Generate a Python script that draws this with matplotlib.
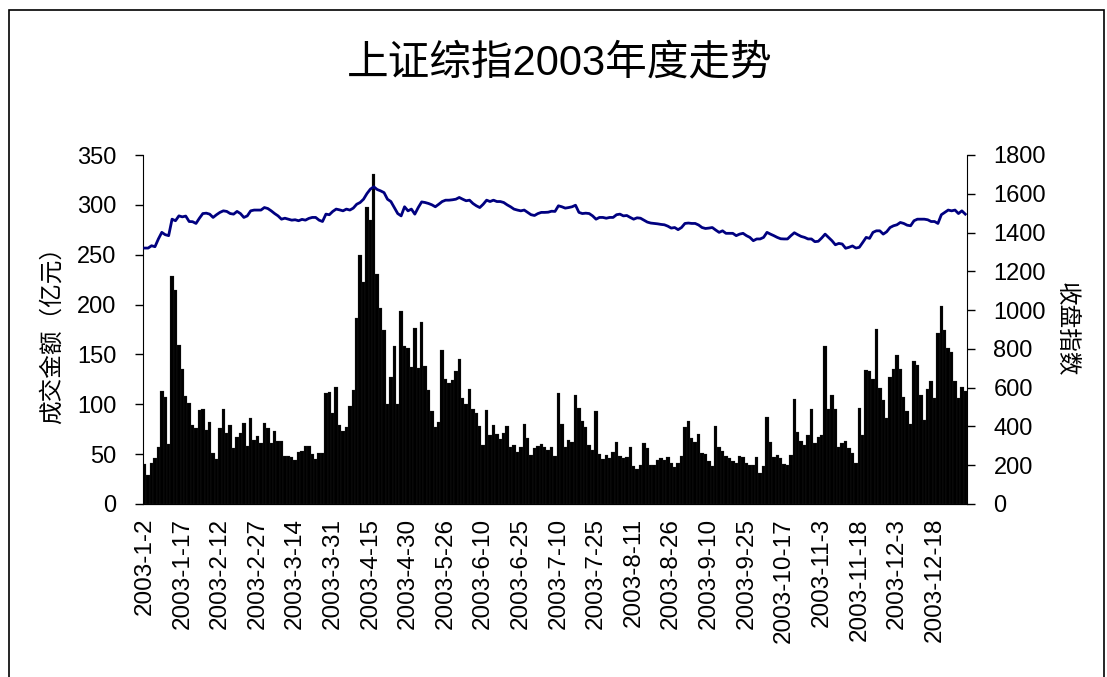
import numpy as np
import matplotlib
matplotlib.use('Agg')
import matplotlib.pyplot as plt
from matplotlib.patches import Rectangle

plt.rcParams['font.family'] = ['Liberation Sans', 'Noto Sans CJK SC', 'DejaVu Sans']

# 成交金额（亿元），2003年每个交易日
volume = [
    40, 29, 41, 46, 57, 113, 107, 60, 229, 215, 159, 135, 108, 101, 79, 76, 94, 95, 74, 82,
    51, 45, 76, 95, 71, 79, 56, 67, 71, 81, 58, 86, 64, 68, 61, 81, 76, 61, 73, 63,
    63, 48, 48, 47, 44, 52, 53, 58, 58, 50, 45, 51, 51, 111, 112, 91, 117, 79, 73, 77,
    98, 114, 187, 250, 223, 298, 285, 331, 231, 197, 175, 100, 127, 158, 100, 194, 158, 156, 137, 177,
    136, 183, 138, 114, 93, 77, 82, 154, 125, 121, 124, 133, 145, 106, 100, 115, 95, 91, 78, 59,
    94, 69, 79, 70, 65, 71, 78, 57, 59, 52, 57, 80, 66, 49, 56, 58, 60, 57, 54, 57,
    48, 111, 80, 57, 64, 62, 109, 96, 83, 77, 59, 54, 93, 50, 45, 49, 46, 52, 62, 48,
    46, 47, 57, 38, 35, 39, 61, 56, 39, 39, 44, 46, 44, 47, 41, 37, 41, 48, 77, 83, 66,
    62, 70, 51, 50, 43, 38, 78, 57, 53, 48, 46, 43, 41, 48, 47, 41, 39, 39, 47, 31,
    38, 87, 62, 47, 49, 46, 40, 39, 49, 105, 72, 63, 59, 69, 95, 61, 67, 69, 158, 95,
    109, 95, 57, 61, 63, 56, 51, 41, 96, 69, 134, 133, 125, 176, 116, 104, 86, 127, 135, 149,
    135, 107, 93, 80, 143, 139, 109, 84, 115, 123, 106, 171, 199, 175, 156, 152, 123, 106, 117, 113,
]

# 收盘指数
close = [
    1320, 1320, 1332, 1327, 1367, 1401, 1389, 1384, 1469, 1461, 1486, 1481, 1485, 1457, 1456, 1447, 1474, 1498, 1500, 1495,
    1478, 1492, 1504, 1512, 1509, 1498, 1495, 1509, 1498, 1478, 1486, 1512, 1516, 1516, 1516, 1529, 1524, 1512, 1498, 1486,
    1469, 1474, 1469, 1464, 1466, 1461, 1468, 1464, 1473, 1478, 1478, 1464, 1457, 1495, 1492, 1509, 1521, 1517, 1512, 1521,
    1516, 1526, 1546, 1555, 1572, 1601, 1624, 1636, 1622, 1615, 1606, 1572, 1560, 1529, 1498, 1486, 1533, 1512, 1521, 1495,
    1529, 1558, 1555, 1550, 1543, 1533, 1546, 1560, 1567, 1567, 1569, 1572, 1581, 1572, 1564, 1567, 1550, 1538, 1529, 1546,
    1567, 1560, 1567, 1560, 1560, 1555, 1543, 1533, 1521, 1516, 1512, 1516, 1504, 1492, 1488, 1498, 1504, 1504, 1505, 1510,
    1509, 1538, 1533, 1526, 1529, 1533, 1541, 1504, 1498, 1500, 1498, 1486, 1469, 1478, 1478, 1474, 1478, 1478, 1492, 1495,
    1486, 1488, 1478, 1469, 1476, 1474, 1464, 1454, 1449, 1447, 1445, 1442, 1440, 1433, 1423, 1426, 1415, 1426, 1447, 1449, 1447,
    1447, 1439, 1426, 1421, 1423, 1426, 1413, 1401, 1409, 1396, 1396, 1396, 1384, 1392, 1396, 1384, 1375, 1358, 1367, 1367,
    1375, 1401, 1392, 1384, 1375, 1368, 1367, 1367, 1384, 1399, 1389, 1380, 1375, 1367, 1367, 1353, 1355, 1372, 1392, 1375,
    1358, 1337, 1344, 1341, 1319, 1324, 1331, 1320, 1324, 1349, 1375, 1370, 1401, 1409, 1409, 1392, 1404, 1426, 1435, 1440,
    1452, 1447, 1438, 1435, 1461, 1469, 1469, 1469, 1466, 1457, 1457, 1447, 1492, 1504, 1516, 1512, 1516, 1498, 1512, 1495,
]

# 每隔11个交易日标一个日期
tick_labels = ['2003-1-2', '2003-1-17', '2003-2-12', '2003-2-27', '2003-3-14', '2003-3-31',
               '2003-4-15', '2003-4-30', '2003-5-26', '2003-6-10', '2003-6-25', '2003-7-10',
               '2003-7-25', '2003-8-11', '2003-8-26', '2003-9-10', '2003-9-25', '2003-10-17',
               '2003-11-3', '2003-11-18', '2003-12-3', '2003-12-18']
tick_step = 11

x = np.arange(len(volume))

fig = plt.figure(figsize=(11.07, 6.77), dpi=100)
ax = fig.add_axes([143 / 1107, 1 - 504 / 677, (967 - 143) / 1107, (504 - 155) / 677])
ax.bar(x, volume, width=1.0, color='black', edgecolor='#333333', linewidth=0.15)
ax.set_xlim(-0.5, len(volume) - 0.5)
ax.set_ylim(0, 350)
ax.set_yticks(np.arange(0, 351, 50))
ax.set_xticks(np.arange(0, len(volume), tick_step))
ax.set_xticklabels(tick_labels, rotation=90, fontsize=17.5)
ax.tick_params(axis='x', length=0, pad=10)
ax.tick_params(axis='y', labelsize=17, length=6, width=1, pad=13, direction='out')
ax.spines['top'].set_visible(False)
ax.spines['right'].set_visible(False)
ax.set_ylabel('成交金额（亿元）', fontsize=17, labelpad=10)

ax2 = ax.twinx()
ax2.plot(x, close, color='#000080', linewidth=2.0)
ax2.set_ylim(0, 1800)
ax2.set_yticks(np.arange(0, 1801, 200))
ax2.tick_params(axis='y', labelsize=17, length=6, width=1, pad=13, direction='out')
ax2.spines['top'].set_visible(False)
ax2.spines['left'].set_visible(False)
ax2.set_ylabel('收盘指数', fontsize=17, rotation=-90, labelpad=22)

fig.text(560 / 1107, 1 - 63 / 677, '上证综指2003年度走势', fontsize=30, ha='center', va='center')

fig.patches.append(Rectangle((9 / 1107, -0.05), (1104 - 9) / 1107, 1.05 - 10 / 677,
                             transform=fig.transFigure, fill=False, edgecolor='black', linewidth=1.2))

fig.savefig('out.png', dpi=100)
